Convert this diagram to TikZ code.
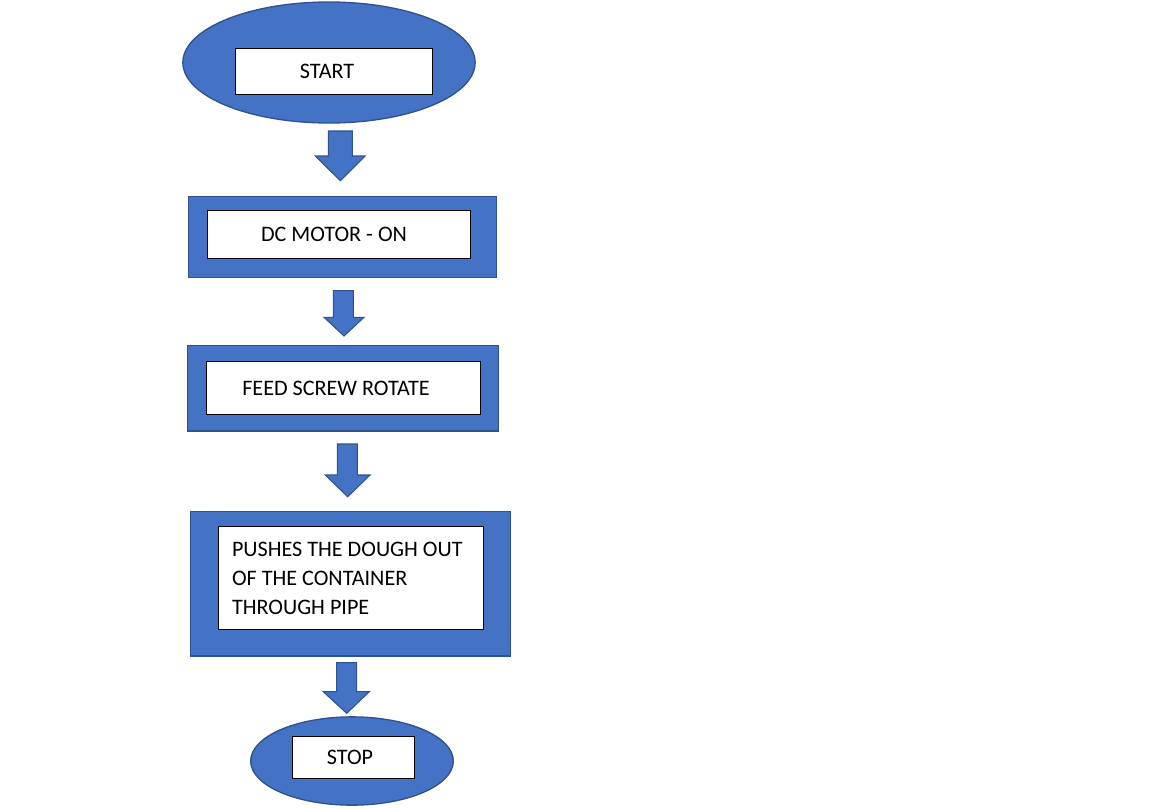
\documentclass[tikz,border=0pt]{standalone}
\usepackage{fontspec}
\setmainfont{Carlito}
\usepackage{xcolor}
\usepackage{tikz}
\usetikzlibrary{shapes,arrows,positioning}
\definecolor{officeblue}{HTML}{4472C4}
\definecolor{officeedge}{HTML}{2F528F}

\begin{document}
\begin{tikzpicture}[x=0.75pt,y=-0.75pt,
  terminal/.style={ellipse,draw=officeedge,fill=officeblue,line width=1pt,inner sep=0pt},
  frame/.style={rectangle,draw=officeedge,fill=officeblue,line width=1pt,inner sep=0pt},
  textbox/.style={rectangle,draw=black,fill=white,line width=0.6pt,inner sep=0pt,
    font=\fontsize{16.6}{21.75}\selectfont},
  flow/.style={draw=officeedge,fill=officeblue,line width=0.8pt,line join=miter}]
% Page size of the flowchart
\useasboundingbox (0,0) rectangle (1152,807);

% Start
\node[terminal,minimum width=219.2pt,minimum height=90.75pt] (start) at (329,62.5) {};
\node[textbox,minimum width=148pt,minimum height=34.5pt] (startbox) at (334,71.3) {START\hspace*{10.5pt}};

% Arrow start -> motor
\draw[flow] (328.3,131) -- (352.3,131) -- (352.3,156) -- (365,156) -- (340.3,180.7)
  -- (315.3,156) -- (328.3,156) -- cycle;

% DC motor on
\node[frame,minimum width=231.3pt,minimum height=60.5pt] (motor) at (342.5,237) {};
\node[textbox,minimum width=197.5pt,minimum height=36.2pt] (motorbox) at (339,234.2) {DC MOTOR - ON\hspace*{7.5pt}};

% Arrow motor -> screw
\draw[flow] (333.3,290.7) -- (353.3,290.7) -- (353.3,317.3) -- (364,317.3) -- (344,336)
  -- (324,317.3) -- (333.3,317.3) -- cycle;

% Feed screw
\node[frame,minimum width=233.5pt,minimum height=64pt] (screw) at (343,388.4) {};
\node[textbox,minimum width=206pt,minimum height=40.3pt] (screwbox) at (343.4,387.9) {FEED SCREW ROTATE\hspace*{11pt}};

% Arrow screw -> dough
\draw[flow] (337.3,444) -- (357.3,444) -- (357.3,475) -- (370,475) -- (347.7,496.7)
  -- (325.3,475) -- (337.3,475) -- cycle;

% Push the dough
\node[frame,minimum width=240pt,minimum height=108.2pt] (dough) at (350.7,583.9) {};
\node[textbox,minimum width=198.5pt,minimum height=77pt,align=left]
  (doughbox) at (351,578) {PUSHES THE DOUGH OUT\hspace*{5.5pt}\\OF THE CONTAINER\\THROUGH PIPE};

% Arrow dough -> stop
\draw[flow] (336.7,662.7) -- (356.7,662.7) -- (356.7,691.7) -- (369.3,691.7) -- (346.7,713.3)
  -- (323.3,691.7) -- (336.7,691.7) -- cycle;

% Stop
\node[terminal,minimum width=152pt,minimum height=66.2pt] (stop) at (352,761) {};
\node[textbox,minimum width=91.5pt,minimum height=31.2pt] (stopbox) at (353.3,757.5) {STOP\hspace*{5pt}};
\end{tikzpicture}
\end{document}
